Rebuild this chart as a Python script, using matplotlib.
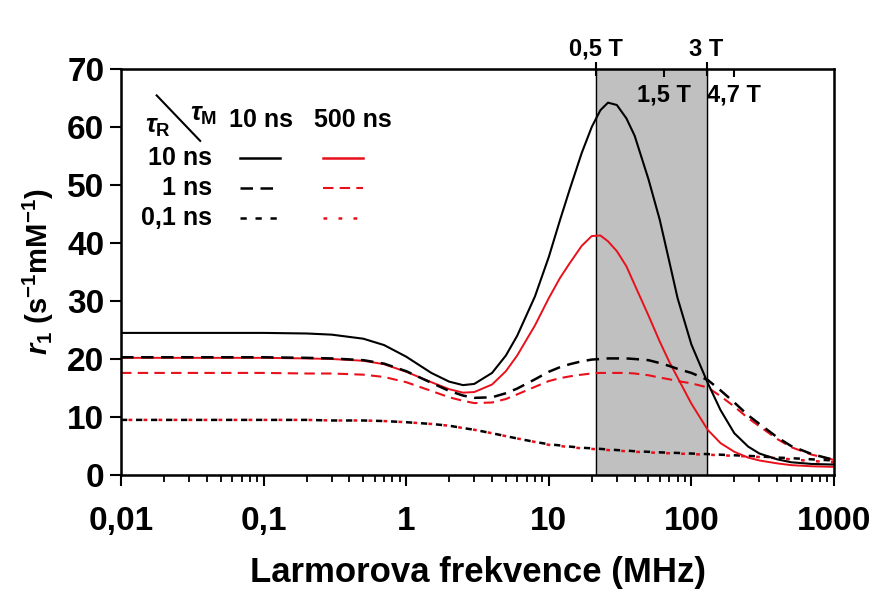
import matplotlib
matplotlib.use("Agg")
import matplotlib.pyplot as plt
from matplotlib.ticker import FixedLocator, NullFormatter
import matplotlib.transforms as mtransforms

plt.rcParams["font.family"] = ["Liberation Sans", "DejaVu Sans"]
plt.rcParams["font.weight"] = "bold"
plt.rcParams["axes.labelweight"] = "bold"
plt.rcParams["mathtext.fontset"] = "custom"
plt.rcParams["mathtext.rm"] = "Liberation Sans:bold"
plt.rcParams["mathtext.it"] = "Liberation Sans:italic:bold"
plt.rcParams["mathtext.bf"] = "Liberation Sans:bold"

RED = "#e8101a"

# ---- data (r1 in s^-1 mM^-1 vs Larmor frequency) ----
freq_mhz = [0.01, 0.03, 0.1, 0.2, 0.3, 0.5, 0.7, 1, 1.5, 2, 2.5, 3, 4, 5, 6, 8,
            10, 12, 14, 17, 20, 23, 26, 30, 35, 40, 50, 60, 70, 80, 100, 130,
            160, 200, 250, 300, 400, 500, 700, 1000]

# tauR = 10 ns
r1_r10_m10 = [24.5, 24.5, 24.5, 24.4, 24.2, 23.5, 22.4, 20.4, 17.6, 16.1, 15.5,
              15.7, 17.6, 20.6, 24.0, 30.8, 37.6, 44.0, 49.2, 55.5, 60.0, 62.9,
              64.2, 63.8, 61.5, 58.5, 51.0, 44.0, 36.8, 30.5, 22.5, 15.9, 11.2,
              7.2, 4.9, 3.7, 2.7, 2.2, 1.9, 1.8]
r1_r10_m500 = [20.2, 20.2, 20.2, 20.1, 20.0, 19.7, 19.1, 17.8, 16.0, 14.8, 14.2,
               14.3, 15.6, 17.9, 20.6, 25.8, 30.5, 34.0, 36.5, 39.5, 41.2, 41.3,
               40.3, 38.6, 36.0, 32.8, 27.5, 23.0, 19.5, 16.8, 12.3, 7.8, 5.5,
               4.0, 3.0, 2.5, 2.0, 1.7, 1.5, 1.4]
# tauR = 1 ns
r1_r1_m10 = [20.3, 20.3, 20.3, 20.2, 20.1, 19.8, 19.2, 17.9, 15.9, 14.5, 13.7,
             13.3, 13.4, 14.1, 14.9, 16.5, 17.8, 18.6, 19.1, 19.6, 19.9, 20.0,
             20.1, 20.1, 20.1, 20.0, 19.8, 19.3, 18.8, 18.3, 17.6, 16.4, 14.6,
             12.5, 10.3, 8.8, 6.5, 5.0, 3.6, 2.6]
r1_r1_m500 = [17.6, 17.6, 17.6, 17.5, 17.5, 17.3, 16.9, 16.0, 14.5, 13.4, 12.8,
              12.4, 12.5, 13.1, 13.9, 15.2, 16.2, 16.7, 17.0, 17.3, 17.5, 17.6,
              17.6, 17.6, 17.6, 17.5, 17.2, 16.8, 16.5, 16.2, 15.8, 15.1, 13.6,
              11.8, 9.8, 8.4, 6.2, 4.8, 3.5, 2.6]
# tauR = 0.1 ns
r1_r01_m10 = [9.5, 9.5, 9.5, 9.5, 9.4, 9.4, 9.3, 9.1, 8.8, 8.5, 8.1, 7.8, 7.2,
              6.7, 6.3, 5.7, 5.3, 5.1, 4.9, 4.7, 4.6, 4.5, 4.4, 4.3, 4.2, 4.1,
              4.0, 3.9, 3.85, 3.8, 3.7, 3.6, 3.5, 3.4, 3.3, 3.2, 3.0, 2.9, 2.7, 2.5]
r1_r01_m500 = [9.5, 9.5, 9.5, 9.5, 9.4, 9.4, 9.3, 9.1, 8.8, 8.5, 8.1, 7.8, 7.2,
               6.7, 6.3, 5.7, 5.2, 5.0, 4.8, 4.6, 4.5, 4.4, 4.3, 4.2, 4.1, 4.0,
               3.9, 3.8, 3.75, 3.7, 3.6, 3.5, 3.4, 3.3, 3.2, 3.1, 2.9, 2.7, 2.4, 2.2]

x_ticks = [0.01, 0.1, 1, 10, 100, 1000]
x_labels = ["0,01", "0,1", "1", "10", "100", "1000"]
y_ticks = [0, 10, 20, 30, 40, 50, 60, 70]

field_T = [0.5, 1.5, 3, 4.7]
field_labels = ["0,5 T", "1,5 T", "3 T", "4,7 T"]
GAMMA_H = 42.58  # MHz per tesla for 1H
field_mhz = [GAMMA_H * b for b in field_T]

fig = plt.figure(figsize=(8.72, 5.93), dpi=100)
ax = fig.add_axes([0.1388, 0.199, 0.8176, 0.6846])

# clinical field band 0.5 T - 3 T
ax.axvspan(field_mhz[0], field_mhz[2], color="#c0c0c0", zorder=0)
for f in (field_mhz[0], field_mhz[2]):
    ax.axvline(f, color="k", lw=1.0, zorder=1)

# curves
ax.plot(freq_mhz, r1_r01_m10, color="k", lw=1.8, ls=(0, (2.5, 3.5)))
ax.plot(freq_mhz, r1_r01_m500, color=RED, lw=1.8, ls=(3, (1.5, 4.5)))
ax.plot(freq_mhz, r1_r1_m500, color=RED, lw=1.5, ls=(0, (5, 3)))
ax.plot(freq_mhz, r1_r10_m500, color=RED, lw=1.4)
ax.plot(freq_mhz, r1_r1_m10, color="k", lw=1.8, ls=(0, (5, 3)))
ax.plot(freq_mhz, r1_r10_m10, color="k", lw=1.5)

ax.set_xscale("log")
ax.set_xlim(0.01, 1000)
ax.set_ylim(0, 70)
ax.xaxis.set_major_locator(FixedLocator(x_ticks))
ax.set_xticklabels(x_labels)
ax.xaxis.set_minor_formatter(NullFormatter())
ax.set_yticks(y_ticks)
ax.tick_params(axis="both", which="major", labelsize=24, length=8, width=1.5,
               direction="out", pad=4)
ax.tick_params(axis="x", which="major", pad=14)
ax.tick_params(axis="x", which="minor", length=5, width=1.3, direction="out")
for s in ax.spines.values():
    s.set_linewidth(1.8)

ax.set_xlabel("Larmorova frekvence (MHz)", fontsize=25, labelpad=14)
ax.set_ylabel(r"$r_\mathrm{1}$ (s$^{\mathrm{-1}}$mM$^{\mathrm{-1}}$)", fontsize=21,
              labelpad=8)

# field strength ticks on top
ax2 = ax.twiny()
ax2.set_xscale("log")
ax2.set_xlim(ax.get_xlim())
ax2.xaxis.set_major_locator(FixedLocator([field_mhz[0], field_mhz[2]]))
ax2.set_xticklabels([field_labels[0], field_labels[2]])
ax2.xaxis.set_minor_locator(FixedLocator([field_mhz[1], field_mhz[3]]))
ax2.xaxis.set_minor_formatter(NullFormatter())
ax2.tick_params(which="major", direction="inout", length=10, width=1.5,
                labelsize=17, pad=1)
ax2.tick_params(which="minor", direction="in", length=6, width=1.5)
trans = mtransforms.blended_transform_factory(ax.transData, ax.transAxes)
for f, lab in ((field_mhz[1], field_labels[1]), (field_mhz[3], field_labels[3])):
    ax.text(f, 0.935, lab, transform=trans, ha="center", va="center", fontsize=17)

# legend grid drawn by hand: rows = tauR, columns = tauM
ax.text(0.052, 0.858, r"$\tau_\mathrm{R}$", transform=ax.transAxes,
        ha="center", va="center", fontsize=19)
ax.text(0.115, 0.886, r"$\tau_\mathrm{M}$", transform=ax.transAxes,
        ha="center", va="center", fontsize=19)
ax.plot([0.050, 0.111], [0.935, 0.823], color="k", lw=1.5, transform=ax.transAxes)
ax.text(0.196, 0.874, "10 ns", transform=ax.transAxes, ha="center",
        va="center", fontsize=18)
ax.text(0.325, 0.874, "500 ns", transform=ax.transAxes, ha="center",
        va="center", fontsize=18)

row_labels = ["10 ns", "1 ns", "0,1 ns"]
row_y = [0.781, 0.707, 0.633]
black_styles = [("-", 1.8), ((0, (5, 3)), 1.8), ((0, (2.5, 3.5)), 1.8)]
red_styles = [("-", 1.8), ((0, (5, 3)), 1.5), ((0, (1.5, 4.5)), 1.8)]
for lab, yy, bs, rs in zip(row_labels, row_y, black_styles, red_styles):
    ax.text(0.128, yy, lab, transform=ax.transAxes, ha="right", va="center",
            fontsize=18)
    ax.plot([0.167, 0.223], [yy, yy], color="k", ls=bs[0], lw=bs[1],
            transform=ax.transAxes)
    ax.plot([0.283, 0.339], [yy, yy], color=RED, ls=rs[0], lw=rs[1],
            transform=ax.transAxes)

fig.savefig("out.png", dpi=100)
